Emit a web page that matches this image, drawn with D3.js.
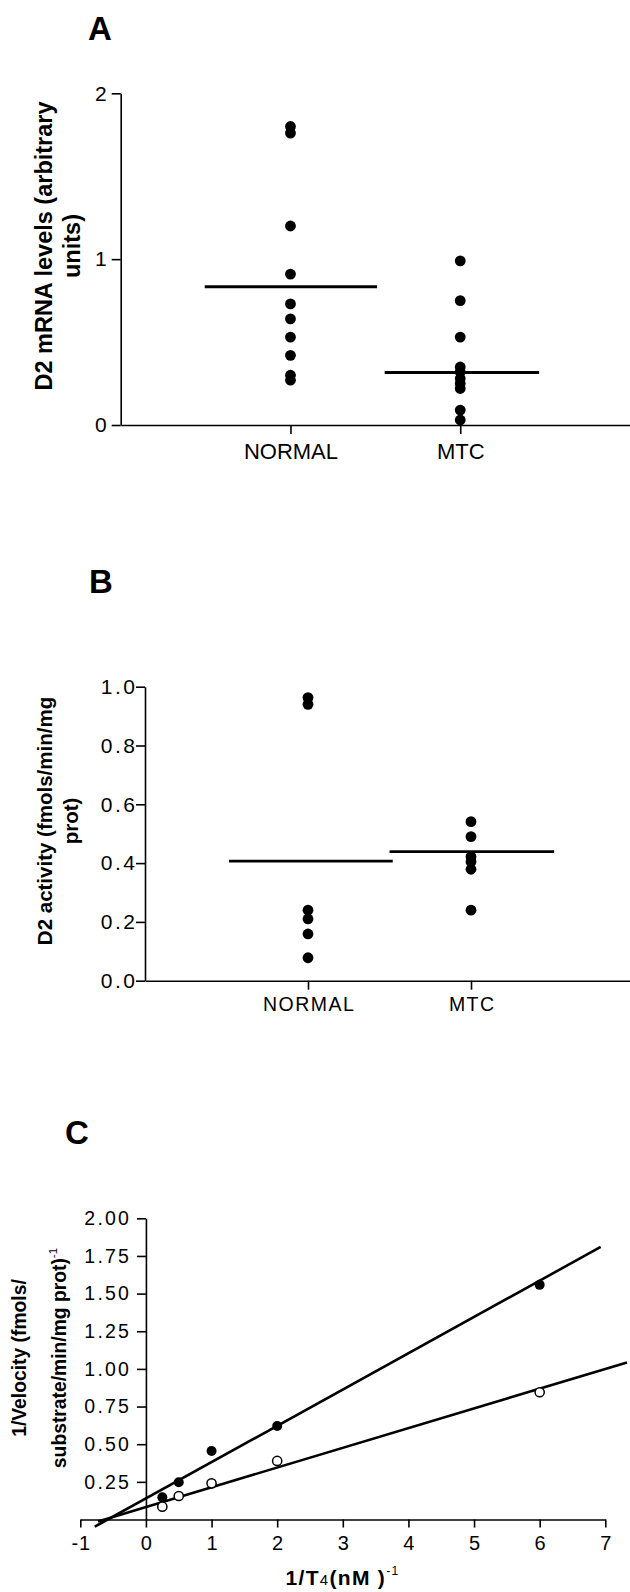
<!DOCTYPE html>
<html>
<head>
<meta charset="utf-8">
<script src="https://cdn.jsdelivr.net/npm/d3@7"></script>
<style>
  body { margin: 0; background: #fff; }
  svg { display: block; font-family: "Liberation Sans", Arial, sans-serif; }
</style>
</head>
<body>
<svg id="fig" width="630" height="1592"></svg>
<script>
// ---- data ----
const categories = ["NORMAL", "MTC"];

// panel A: D2 mRNA levels
const normalA = [1.80, 1.76, 1.20, 0.91, 0.73, 0.64, 0.53, 0.42, 0.30, 0.27];
const mtcA = [0.99, 0.75, 0.53, 0.35, 0.32, 0.28, 0.25, 0.22, 0.09, 0.03];
const meanA = [0.834, 0.316];
const ticksA = [0, 1, 2];

// panel B: D2 activity
const normalB = [0.963, 0.940, 0.240, 0.210, 0.159, 0.078];
const mtcB = [0.541, 0.490, 0.422, 0.405, 0.379, 0.240];
const meanB = [0.407, 0.439];
const ticksB = [0, 0.2, 0.4, 0.6, 0.8, 1.0];

// panel C: Lineweaver-Burk plot
const invT4 = [0.25, 0.5, 1, 2, 6];
const filledC = [0.147, 0.247, 0.455, 0.621, 1.558];
const openC = [0.085, 0.156, 0.240, 0.389, 0.845];
const fitSlope = [0.241, 0.131];
const fitIntercept = [0.14, 0.083];
const fitFrom = [-0.78, -0.73];
const fitTo = [6.93, 7.33];
const ticksCx = [-1, 0, 1, 2, 3, 4, 5, 6, 7];
const ticksCy = [0.25, 0.5, 0.75, 1.0, 1.25, 1.5, 1.75, 2.0];

const svg = d3.select("#fig");
const FONT = '"Liberation Sans", Arial, sans-serif';

function styleAxis(g, fs, ls, anchorShift) {
    g.attr("font-family", FONT).attr("font-size", fs);
    g.select(".domain").attr("stroke", "#000").attr("stroke-width", 1.6);
    g.selectAll(".tick line").attr("stroke", "#000").attr("stroke-width", 1.6);
    g.selectAll(".tick text").attr("fill", "#000")
        .attr("letter-spacing", ls)
        .attr("dx", ls * anchorShift);
}

function panelLetter(txt, x, y) {
    svg.append("text").attr("x", x).attr("y", y)
        .attr("font-size", 33).attr("font-weight", "bold").text(txt);
}

function yTitle(lines, x, y, fs, gap) {
    const t = svg.append("g").attr("transform", `translate(${x},${y}) rotate(-90)`)
        .append("text").attr("text-anchor", "middle")
        .attr("font-size", fs).attr("font-weight", "bold");
    lines.forEach((l, i) => {
        t.append("tspan").attr("x", 0).attr("y", i * gap).text(l.text);
        if (l.sup) {
            t.append("tspan").attr("dy", -fs * 0.45).attr("font-size", fs * 0.6)
                .attr("font-weight", "normal").text(l.sup);
        }
    });
}

// ---------- scatter panels (A and B) ----------
function scatterPanel(o) {
    const x = d3.scalePoint().domain(categories).range(o.xRange).padding(1);
    const y = d3.scaleLinear().domain(o.yDomain).range(o.yRange);

    const ya = svg.append("g").attr("transform", `translate(${o.xRange[0]},0)`)
        .call(d3.axisLeft(y).tickValues(o.ticks).tickFormat(d3.format(o.fmt))
            .tickSize(9).tickPadding(o.yPad).tickSizeOuter(0));
    styleAxis(ya, o.yFs, o.yLs, 1);

    const xa = svg.append("g").attr("transform", `translate(0,${o.yRange[0]})`)
        .call(d3.axisBottom(x).tickSize(9).tickPadding(o.xPad).tickSizeOuter(0));
    styleAxis(xa, o.xFs, o.xLs, 0.5);

    const groups = [o.normal, o.mtc];
    groups.forEach((vals, gi) => {
        svg.append("g").selectAll("circle").data(vals).join("circle")
            .attr("cx", x(categories[gi]))
            .attr("cy", d => y(d))
            .attr("r", 5.4)
            .attr("fill", "#000");
    });

    svg.append("g").selectAll("line").data(o.means).join("line")
        .attr("x1", (d, i) => x(categories[i]) + o.meanSpan[i][0] * x.step())
        .attr("x2", (d, i) => x(categories[i]) + o.meanSpan[i][1] * x.step())
        .attr("y1", d => y(d))
        .attr("y2", d => y(d))
        .attr("stroke", "#000")
        .attr("stroke-width", o.meanW);
}

panelLetter("A", 88, 40);
scatterPanel({
    xRange: [120.7, 630], yDomain: [0, 2], yRange: [425, 93.3],
    ticks: ticksA, fmt: "d", yPad: 5, yFs: 21, yLs: 0, xPad: 9, xFs: 22, xLs: 0,
    normal: normalA, mtc: mtcA, means: meanA,
    meanSpan: [[-0.505, 0.51], [-0.445, 0.465]], meanW: 3
});
yTitle([{ text: "D2 mRNA levels (arbitrary" }, { text: "units)" }], 51.7, 246, 23.5, 28.5);

panelLetter("B", 89, 593);
scatterPanel({
    xRange: [145, 634], yDomain: [0, 1], yRange: [980.7, 686.7],
    ticks: ticksB, fmt: ".1f", yPad: 1, yFs: 21, yLs: 2.5, xPad: 7, xFs: 19.5, xLs: 1.5,
    normal: normalB, mtc: mtcB, means: meanB,
    meanSpan: [[-0.485, 0.52], [-0.5, 0.51]], meanW: 2.8
});
yTitle([{ text: "D2 activity (fmols/min/mg" }, { text: "prot)" }], 52.3, 821, 20.5, 25.7);

// ---------- panel C ----------
panelLetter("C", 65, 1144);
const xC = d3.scaleLinear().domain([-1, 7]).range([80.3, 605.3]);
const yC = d3.scaleLinear().domain([0, 2]).range([1519.5, 1218.3]);

const yaC = svg.append("g").attr("transform", `translate(${xC(0)},0)`)
    .call(d3.axisLeft(yC).tickValues(ticksCy).tickFormat(d3.format(".2f"))
        .tickSize(9).tickPadding(8).tickSizeOuter(0));
styleAxis(yaC, 19.5, 2.2, 1);

const xaC = svg.append("g").attr("transform", `translate(0,${yC(0)})`)
    .call(d3.axisBottom(xC).tickValues(ticksCx).tickFormat(d3.format("d"))
        .tickSize(8).tickPadding(8).tickSizeOuter(0));
styleAxis(xaC, 20, 1, 0.5);
xaC.selectAll(".tick text").text(d => d < 0 ? "-" + Math.abs(d) : d);

// fitted lines
[0, 1].forEach(i => {
    svg.append("line")
        .attr("x1", xC(fitFrom[i])).attr("y1", yC(fitIntercept[i] + fitSlope[i] * fitFrom[i]))
        .attr("x2", xC(fitTo[i])).attr("y2", yC(fitIntercept[i] + fitSlope[i] * fitTo[i]))
        .attr("stroke", "#000").attr("stroke-width", 2.6);
});

svg.append("g").selectAll("circle").data(invT4).join("circle")
    .attr("cx", d => xC(d)).attr("cy", (d, i) => yC(filledC[i]))
    .attr("r", 5).attr("fill", "#000");

svg.append("g").selectAll("circle").data(invT4).join("circle")
    .attr("cx", d => xC(d)).attr("cy", (d, i) => yC(openC[i]))
    .attr("r", 4.6).attr("fill", "#fff").attr("stroke", "#000").attr("stroke-width", 1.5);

yTitle([{ text: "1/Velocity (fmols/" }, { text: "substrate/min/mg prot)", sup: "-1" }], 26, 1358, 19.3, 40);

// x title with small 4 and superscript -1
const xt = svg.append("text").attr("x", 342.5).attr("y", 1585)
    .attr("text-anchor", "middle").attr("font-size", 21).attr("font-weight", "bold")
    .attr("letter-spacing", 1.3);
xt.append("tspan").text("1/T");
xt.append("tspan").attr("font-size", 15).attr("font-weight", "normal").text("4");
xt.append("tspan").text("(nM )");
xt.append("tspan").attr("dy", -10).attr("font-size", 12).attr("font-weight", "normal").text("-1");
</script>
</body>
</html>
